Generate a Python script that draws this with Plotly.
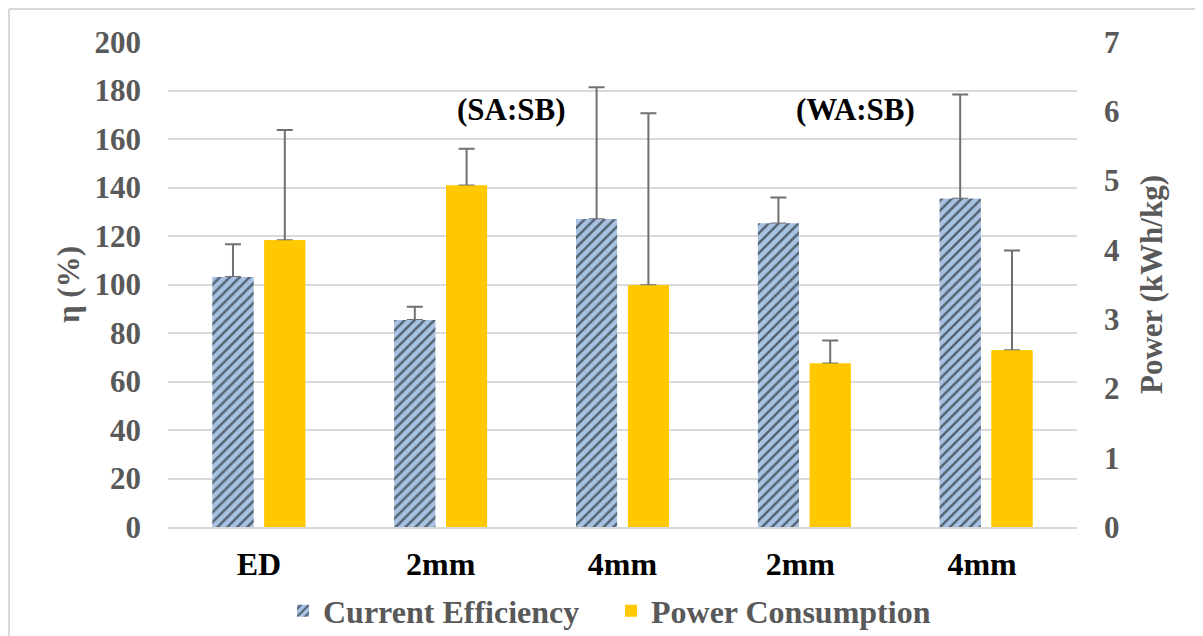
import plotly.graph_objects as go

categories = ["ED", "2mm", "4mm", "2mm ", "4mm "]
efficiency = [103.1, 85.4, 126.9, 125.2, 135.4]
efficiency_err = [13.5, 5.4, 54.4, 10.7, 42.9]
power = [4.14, 4.93, 3.49, 2.36, 2.55]
power_err = [1.59, 0.53, 2.48, 0.33, 1.44]
group_labels = ["(SA:SB)", "(WA:SB)"]
group_label_pos = [1.39, 3.28]

FONT = "Liberation Serif"
GRAY = "#595959"
BLUE = "#A7C2E3"
GOLD = "#FFC800"
ERR = "#707070"

# page body has an 8px default margin; figure coords = screen coords - 8
L, T, PW, PH = 160, 34, 909, 485
W, H = 1195, 628

blue_marker = dict(color=BLUE, line=dict(width=0),
                   pattern=dict(shape="/", fgcolor="#000000", bgcolor=BLUE,
                                size=7, solidity=0.35))
gold_marker = dict(color=GOLD, line=dict(width=0))

fig = go.Figure()
fig.add_trace(go.Bar(
    x=categories, y=efficiency, name="Current Efficiency", offsetgroup="a",
    marker=blue_marker, showlegend=False,
    error_y=dict(type="data", symmetric=False, array=efficiency_err,
                 arrayminus=[0]*5, color=ERR, thickness=2, width=8),
    yaxis="y"))
fig.add_trace(go.Bar(
    x=categories, y=power, name="Power Consumption", offsetgroup="b",
    marker=gold_marker, showlegend=False,
    error_y=dict(type="data", symmetric=False, array=power_err,
                 arrayminus=[0]*5, color=ERR, thickness=2, width=8),
    yaxis="y2"))
fig.add_trace(go.Bar(
    x=categories, y=efficiency, name="Current Efficiency", offsetgroup="a",
    marker=blue_marker, yaxis="y"))
fig.add_trace(go.Bar(
    x=categories, y=power, name="Power Consumption", offsetgroup="b",
    marker=gold_marker, yaxis="y2"))

for txt, xp in zip(group_labels, group_label_pos):
    fig.add_annotation(x=xp, y=172, xref="x", yref="y", text=f"<b>{txt}</b>",
                       showarrow=False, font=dict(family=FONT, size=31, color="#000000"))

def px_x(x):
    return (x - 8 - L) / PW

def px_y(y):
    return (T + PH - (y - 8)) / PH

fig.update_layout(
    width=W, height=H,
    margin=dict(l=L, r=W - L - PW, t=T, b=H - T - PH, autoexpand=False),
    paper_bgcolor="white", plot_bgcolor="white",
    barmode="group", bargap=0.43, bargroupgap=0.21,
    font=dict(family=FONT, size=31, color=GRAY),
    xaxis=dict(type="category", showgrid=False, showline=True, linecolor="#D9D9D9",
               linewidth=2, ticks="", ticklabelstandoff=8, automargin=False,
               tickfont=dict(family=FONT, size=32, color="#000000", weight="bold")),
    yaxis=dict(range=[0, 200], dtick=20, showgrid=True, gridcolor="#D9D9D9", gridwidth=1.5,
               zeroline=False, showline=False, ticks="", ticklabelstandoff=26, automargin=False,
               tickfont=dict(family=FONT, size=31, color=GRAY, weight="bold"),
               title=dict(text="<b>η (%)</b>", font=dict(family=FONT, size=31, color=GRAY),
                          standoff=5)),
    yaxis2=dict(range=[0, 7], dtick=1, overlaying="y", side="right", showgrid=False,
                zeroline=False, showline=False, ticks="", ticklabelstandoff=26, automargin=False,
                tickfont=dict(family=FONT, size=31, color=GRAY, weight="bold"),
                title=dict(text="<b>Power (kWh/kg)</b>", font=dict(family=FONT, size=31, color=GRAY),
                           standoff=21)),
    legend=dict(orientation="h", x=px_x(283), xanchor="left",
                y=px_y(611), yanchor="middle", entrywidth=283, entrywidthmode="pixels",
                font=dict(family=FONT, size=32, color=GRAY, weight="bold"),
                itemsizing="constant", bgcolor="rgba(0,0,0,0)"),
    shapes=[
        dict(type="line", xref="paper", yref="paper", x0=px_x(9), x1=px_x(1215),
             y0=px_y(9), y1=px_y(9), line=dict(color="#D9D9D9", width=2)),
        dict(type="line", xref="paper", yref="paper", x0=px_x(9), x1=px_x(9),
             y0=px_y(9), y1=px_y(650), line=dict(color="#D9D9D9", width=2)),
    ],
)

fig.write_html("out.html")
